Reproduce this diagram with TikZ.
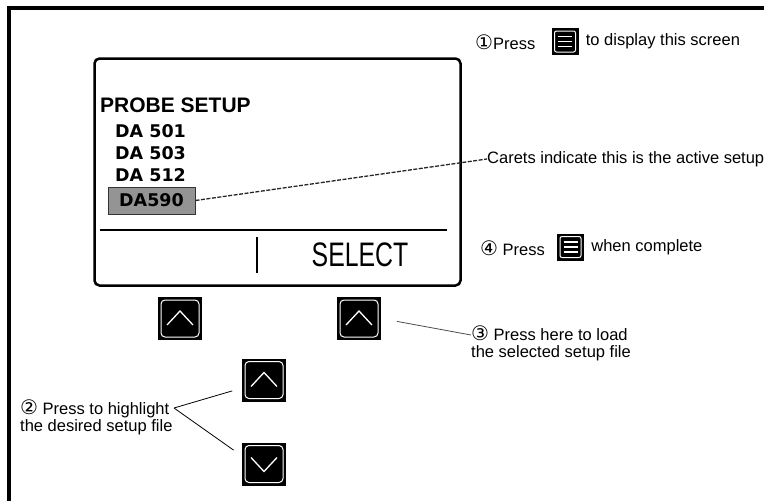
\documentclass[tikz,border=0pt]{standalone}
\usepackage{fontspec}
\usepackage{graphicx}
\setmainfont{Liberation Sans}
\newfontfamily\symfont{DejaVu Sans}
\newfontfamily\lcdfont{DejaVu Sans}
\usetikzlibrary{positioning,calc}

% white rim inside a black key
\newcommand\keyrim[1]{\draw[white,line width=1pt,rounded corners=#1]
  ([shift={(3pt,3pt)}]path picture bounding box.south west) rectangle
  ([shift={(-3pt,-3pt)}]path picture bounding box.north east);}
% circled step number
\newcommand\stepno[1]{{\symfont\fontsize{20}{17}\selectfont #1}}

\begin{document}
\begin{tikzpicture}[x=1pt,y=-1pt,
  note/.style={inner sep=0pt,anchor=west,align=left,
    font=\fontsize{16.5}{17}\selectfont},
  screen/.style={draw,line width=2.5pt,rounded corners=5pt,
    minimum width=366pt,minimum height=227pt,inner sep=0pt},
  lcdhead/.style={inner sep=0pt,anchor=west,font=\bfseries\fontsize{21}{21}\selectfont},
  lcditem/.style={inner sep=0pt,anchor=west,font=\lcdfont\bfseries\fontsize{17.5}{17}\selectfont},
  lcdsel/.style={lcditem,anchor=center,fill=black!42,draw=black!80,line width=1pt,
    minimum width=87pt,minimum height=27pt},
  keybox/.style={fill=black,minimum width=44pt,minimum height=43pt,inner sep=0pt},
  keyup/.style={keybox,path picture={\keyrim{4pt}
    \draw[white,line width=1.3pt]
      ([shift={(-13pt,-6.5pt)}]path picture bounding box.center) --
      ([shift={(0pt,7.5pt)}]path picture bounding box.center) --
      ([shift={(13pt,-6.5pt)}]path picture bounding box.center);}},
  keydown/.style={keybox,path picture={\keyrim{4pt}
    \draw[white,line width=1.3pt]
      ([shift={(-13pt,6.5pt)}]path picture bounding box.center) --
      ([shift={(0pt,-7.5pt)}]path picture bounding box.center) --
      ([shift={(13pt,6.5pt)}]path picture bounding box.center);}},
  menukey/.style={fill=black,minimum width=27pt,minimum height=27pt,inner sep=0pt,
    path picture={\keyrim{2pt}
    \foreach \dy in {-5,0,5}
      \draw[white,line width=1.6pt]
        ([shift={(-7pt,\dy pt)}]path picture bounding box.center) --
        ([shift={(7pt,\dy pt)}]path picture bounding box.center);}},
  leader/.style={draw=black!70,line width=0.8pt},
  caretline/.style={draw=black!85,line width=1.3pt,dash pattern=on 4pt off 1.5pt}]

  \useasboundingbox (0,0) rectangle (764,501);
  \draw[line width=4pt] (9,501) -- (9,8) -- (764,8);

  % display
  \node[screen] (screen) at (277.5,172) {};
  \node[lcdhead] (title) at (100,105) {PROBE SETUP};
  \node[lcditem] (da501) at (115,131) {DA 501};
  \node[lcditem] (da503) at (115,153) {DA 503};
  \node[lcditem] (da512) at (115,175) {DA 512};
  \node[lcdsel] (da590) at (151.5,200.5) {DA590};
  \draw[line width=2pt] (100,230) -- (447,230);
  \draw[line width=1.5pt] (257,237) -- (257,273);
  \node[inner sep=0pt,font=\fontsize{34}{34}\selectfont] (select) at (360,255)
    {\scalebox{0.73}[1]{SELECT}};

  % soft keys
  \node[keyup] (keyleft) at (180,318.5) {};
  \node[keyup] (keysel) at (359,318.5) {};
  \node[keyup] (keyup) at (264,380) {};
  \node[keydown] (keydown) at (264,464) {};

  % notes
  \node[note] (step1) at (475,42) {\stepno{①}Press};
  \node[menukey] (menu1) at (565,41.5) {};
  \node[note,right=7pt of menu1] (step1b) {to display this screen};

  \node[note] (carets) at (487,159) {Carets indicate this is the active setup};
  \draw[caretline] (da590.east) -- (carets.west);

  \node[note] (step4) at (480,248) {\stepno{④} Press};
  \node[menukey] (menu4) at (570.5,247) {};
  \node[note,right=7pt of menu4] (step4b) {when complete};

  \node[note] (step3) at (471,343) {\stepno{③} Press here to load\\the selected setup file};
  \draw[leader,shorten >=16pt] ([yshift=8pt]step3.west) -- (keysel.east);

  \node[note] (step2) at (20,417) {\stepno{②} Press to highlight\\the desired setup file};
  \coordinate (fork) at (174,408);
  \draw[leader,draw=black,shorten >=10pt] (fork) -- (keyup.200);
  \draw[leader,draw=black,shorten >=10pt] (fork) -- (keydown.160);

\end{tikzpicture}
\end{document}
